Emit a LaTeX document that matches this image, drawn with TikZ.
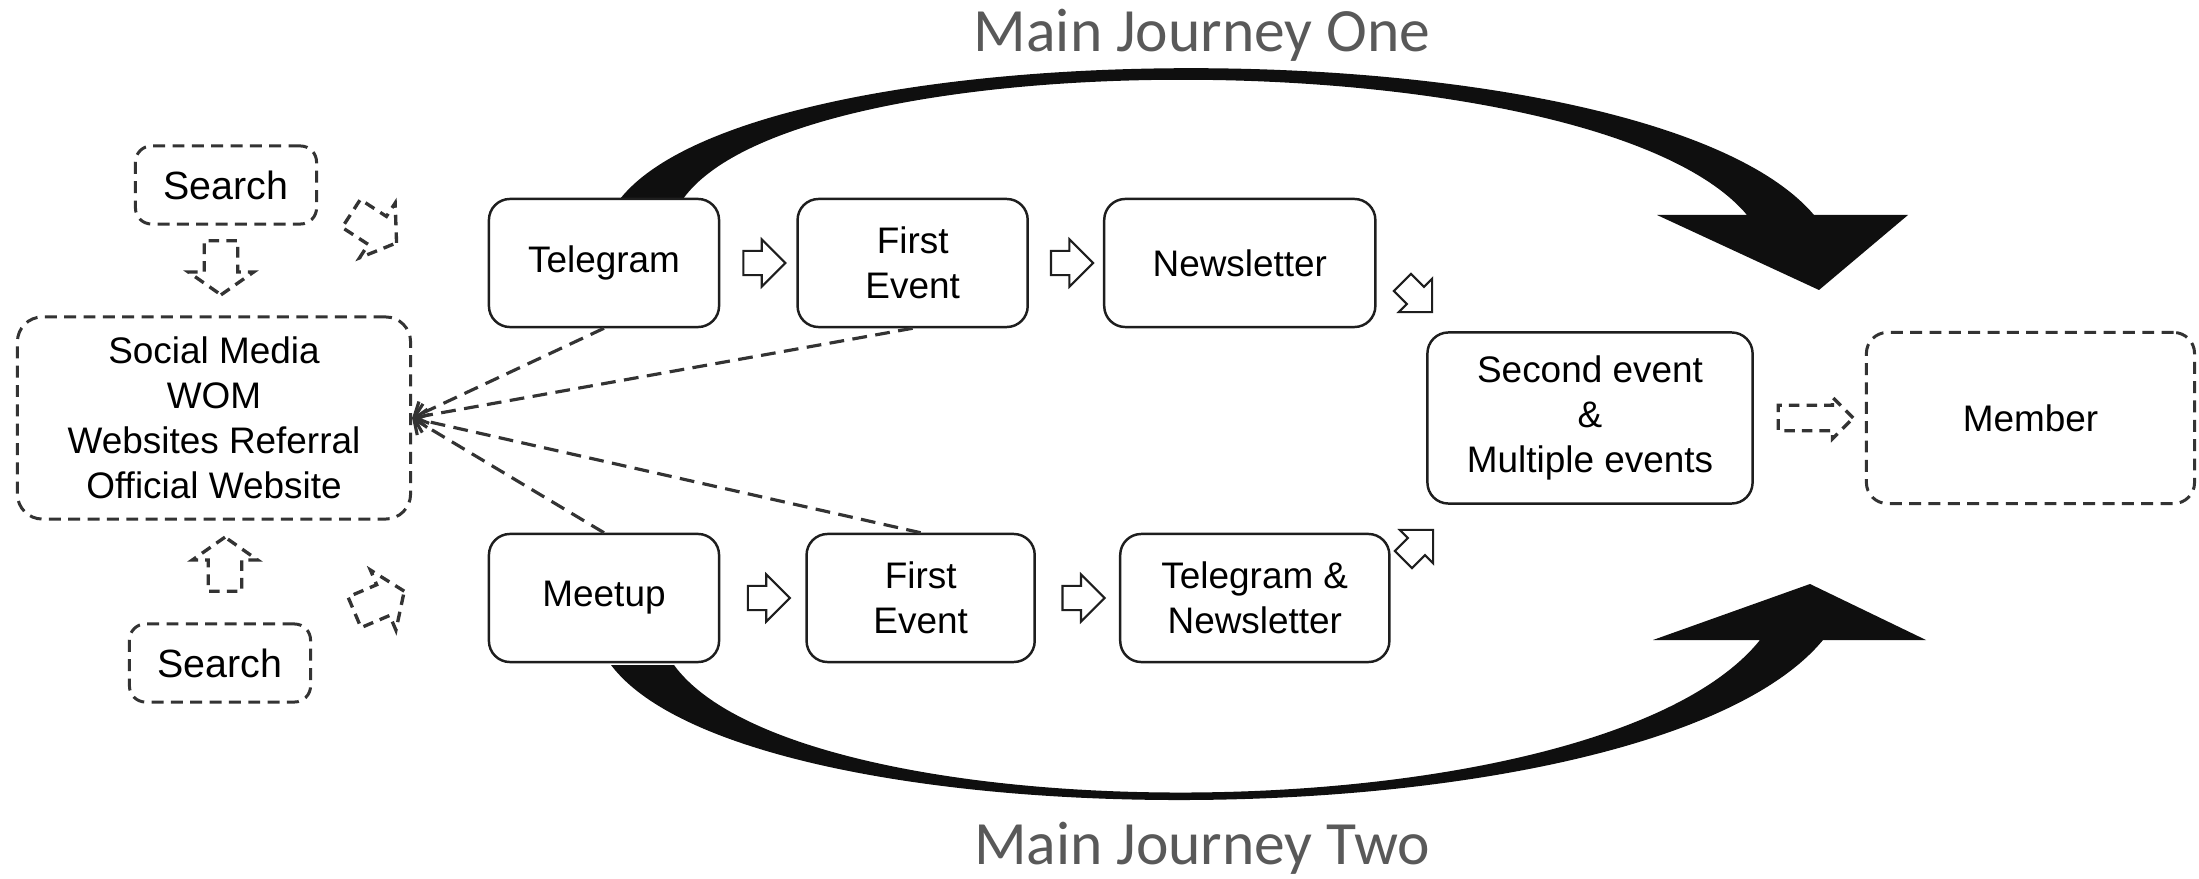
\documentclass[tikz,border=0pt]{standalone}
\usepackage{fontspec}
\setmainfont{Liberation Sans}
\newfontfamily\journeyfont{Carlito}
\usepackage{xcolor}
\usepackage{tikz}
\usetikzlibrary{shapes.arrows, arrows.meta, positioning, calc}
\definecolor{boxline}{HTML}{1E1E1E}
\definecolor{dashline}{HTML}{333333}
\definecolor{journeygray}{HTML}{595959}
\tikzset{
  stagebox/.style={rectangle, rounded corners=0.21cm, draw=boxline, line width=0.7pt, fill=white,
    minimum width=2.3cm, minimum height=1.28cm, align=center, inner sep=2pt,
    font=\fontsize{10.5}{12.8}\selectfont},
  sourcebox/.style={stagebox, draw=dashline, line width=0.85pt, dash pattern=on 3.4pt off 2.1pt},
  searchbox/.style={sourcebox, minimum width=1.81cm, minimum height=0.78cm, rounded corners=0.16cm,
    font=\fontsize{11.2}{13}\selectfont},
  hollowarrow/.style={single arrow, draw=boxline, line width=0.6pt, fill=white, inner sep=0.11cm,
    minimum height=0.42cm, single arrow head extend=0.115cm},
  dasharrow/.style={single arrow, draw=dashline, line width=0.95pt, dash pattern=on 3pt off 2pt,
    inner sep=0.15cm, minimum height=0.54cm, single arrow head extend=0.16cm, single arrow tip angle=110},
  dashlink/.style={draw=dashline, line width=0.9pt, dash pattern=on 4.2pt off 2.4pt,
    -{Straight Barb[length=1.1mm, width=2.4mm]}},
  journeyarrow/.style={fill=black!94},
  journeylabel/.style={anchor=base, font=\journeyfont\fontsize{17.5}{20}\selectfont, text=journeygray}
}
\begin{document}
\begin{tikzpicture}[x=0.01cm, y=-0.01cm]
  \useasboundingbox (0,0) rectangle (2199,879);
  % the two main journeys
  \fill[journeyarrow] (620,199) .. controls (760,22) and (1650,22) .. (1814,215)
    -- (1908,215) -- (1819,290) -- (1657,215) -- (1747,215)
    .. controls (1600,40) and (800,35) .. (683,199) -- cycle;
  \fill[journeyarrow] (611,665) .. controls (750,849) and (1650,849) .. (1823,640)
    -- (1926,640) -- (1810,584) -- (1653,640) -- (1760,640)
    .. controls (1600,839) and (800,839) .. (674,665) -- cycle;
  \node[journeylabel] (j1) at (1202,52) {Main Journey One};
  \node[journeylabel] (j2) at (1202,864) {Main Journey Two};
  % sources
  \node[sourcebox, minimum width=3.93cm, minimum height=2.02cm, rounded corners=0.25cm] (sm) at (214,418)
        {Social Media\\WOM\\Websites Referral\\Official Website};
  \node[searchbox] (s1) at (226,185) {Search};
  \node[searchbox] (s2) at (220,663) {Search};
  \node[dasharrow, rotate=-90] (d1) at (221,262) {};
  \node[dasharrow, rotate=90]  (d2) at (225,570) {};
  \node[dasharrow, rotate=-33] (d3) at (369,225) {};
  \node[dasharrow, rotate=23]  (d4) at (374,604) {};
  % journey one
  \node[stagebox] (tg) at (604,263) {Telegram};
  \node[stagebox, right=0.76cm of tg] (fe1) {First\\Event};
  \node[stagebox, minimum width=2.71cm, right=0.74cm of fe1] (nl) {Newsletter};
  % journey two
  \node[stagebox] (mt) at (604,598) {Meetup};
  \node[stagebox, minimum width=2.28cm, right=0.85cm of mt] (fe2) {First\\Event};
  \node[stagebox, minimum width=2.69cm, right=0.83cm of fe2] (tn) {Telegram \&\\Newsletter};
  % outcome
  \node[stagebox, minimum width=3.25cm, minimum height=1.71cm] (se) at (1590,418)
        {Second event\\\&\\Multiple events};
  \node[sourcebox, minimum width=3.28cm, minimum height=1.71cm, right=1.11cm of se] (mb) {Member};
  % step arrows
  \node[hollowarrow] (h1) at ($(tg.east)!0.5!(fe1.west)$) {};
  \node[hollowarrow] (h2) at ($(fe1.east)!0.5!(nl.west)$) {};
  \node[hollowarrow] (h3) at ($(mt.east)!0.5!(fe2.west)$) {};
  \node[hollowarrow] (h4) at ($(fe2.east)!0.5!(tn.west)$) {};
  \node[hollowarrow, rotate=-45] (h5) at (1413,293) {};
  \node[hollowarrow, rotate=45]  (h6) at (1414,549) {};
  \node[dasharrow, inner sep=0.11cm, minimum height=0.75cm, single arrow head extend=0.08cm,
        single arrow tip angle=90] (h7) at ($(se.east)!0.5!(mb.west)$) {};
  \draw[dashlink] (tg.south)  -- (sm.east);
  \draw[dashlink] (fe1.south) -- (sm.east);
  \draw[dashlink] (mt.north)  -- (sm.east);
  \draw[dashlink] (fe2.north) -- (sm.east);
\end{tikzpicture}
\end{document}
